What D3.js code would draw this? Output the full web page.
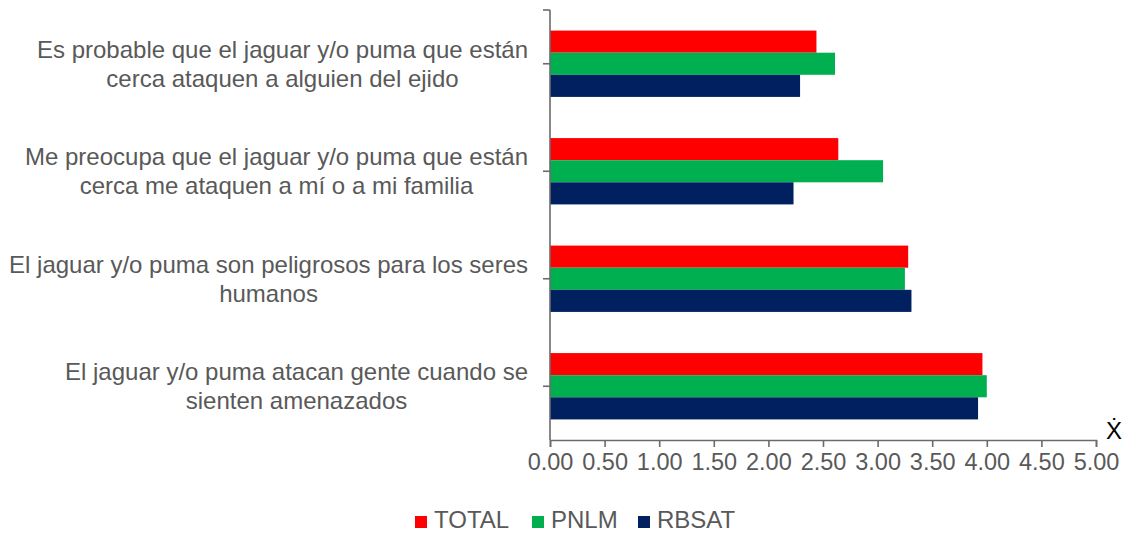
<!DOCTYPE html>
<html>
<head>
<meta charset="utf-8">
<script src="https://cdn.jsdelivr.net/npm/d3@7"></script>
<style>
  html, body { margin: 0; padding: 0; background: #fff; }
  svg { display: block; font-family: "Liberation Sans", Arial, sans-serif; }
</style>
</head>
<body>
<svg id="chart" width="1131" height="533"></svg>
<script>
// ---- data ----
const categories = [
  ["Es probable que el jaguar y/o puma que están", "cerca ataquen a alguien del ejido"],
  ["Me preocupa que el jaguar y/o puma que están", "cerca me ataquen a mí o a mi familia"],
  ["El jaguar y/o puma son peligrosos para los seres", "humanos"],
  ["El jaguar y/o puma atacan gente cuando se", "sienten amenazados"]
];
const seriesNames = ["TOTAL", "PNLM", "RBSAT"];
const seriesColors = ["#FF0000", "#00B050", "#002060"];
const totalValues = [2.44, 2.64, 3.28, 3.96];
const pnlmValues  = [2.61, 3.05, 3.25, 4.00];
const rbsatValues = [2.29, 2.23, 3.31, 3.92];
const xTicks = [0, 0.5, 1, 1.5, 2, 2.5, 3, 3.5, 4, 4.5, 5];
const axisTitle = "Ẋ";

const seriesValues = [totalValues, pnlmValues, rbsatValues];
const svg = d3.select("#chart");
const textColor = "#595959";
const axisColor = "#6b6b6b";

const x = d3.scaleLinear().domain([0, 5]).range([550, 1096]);
const y = d3.scaleBand().domain(d3.range(categories.length)).range([10, 440])
  .paddingInner(0.383).paddingOuter(0.1915);
const ys = d3.scaleBand().domain(d3.range(seriesNames.length)).range([0, y.bandwidth()]);

// bars
categories.forEach((c, ci) => {
  const g = svg.append("g").attr("transform", `translate(0,${y(ci)})`);
  g.selectAll("rect").data(seriesValues.map((s, si) => ({si, v: s[ci]})))
    .join("rect")
    .attr("x", x(0))
    .attr("y", d => ys(d.si))
    .attr("width", d => x(d.v) - x(0))
    .attr("height", ys.bandwidth())
    .attr("fill", d => seriesColors[d.si]);
});

// x axis
const xAxis = d3.axisBottom(x).tickValues(xTicks).tickFormat(d3.format(".2f")).tickSizeOuter(7).tickSizeInner(7).tickPadding(6);
const gx = svg.append("g").attr("transform", "translate(0,440)").call(xAxis);
gx.select(".domain").attr("stroke", axisColor).attr("stroke-width", 1.6);
gx.selectAll(".tick line").attr("stroke", axisColor).attr("stroke-width", 1.6);
gx.selectAll(".tick text").attr("fill", textColor).attr("font-size", 23.5)
  .attr("font-family", "Liberation Sans, Arial, sans-serif");

// y axis line
svg.append("line").attr("x1", x(0)).attr("x2", x(0)).attr("y1", 10).attr("y2", 440)
  .attr("stroke", axisColor).attr("stroke-width", 1.6);
// y ticks at category centers and top end
const yTickPos = categories.map((c, i) => y(i) + y.bandwidth() / 2).concat([10]);
svg.selectAll(".ytick").data(yTickPos).join("line").attr("class", "ytick")
  .attr("x1", x(0) - 7).attr("x2", x(0)).attr("y1", d => d).attr("y2", d => d)
  .attr("stroke", axisColor).attr("stroke-width", 1.6);

// category labels (centered block, right edge at 528)
categories.forEach((lines, ci) => {
  const cy = y(ci) + y.bandwidth() / 2;
  const g = svg.append("g");
  const texts = lines.map((ln, li) => g.append("text")
    .attr("y", cy - 6 + li * 28.8)
    .attr("text-anchor", "middle")
    .attr("font-size", 24)
    .attr("fill", textColor)
    .text(ln));
  const maxW = d3.max(texts, t => t.node().getComputedTextLength());
  texts.forEach(t => t.attr("x", 528 - maxW / 2));
});

// axis title
svg.append("text").attr("x", 1114).attr("y", 439).attr("text-anchor", "middle")
  .attr("font-size", 24).attr("fill", "#000").text(axisTitle);

// legend
const legendX = [415, 532, 638];
const lg = svg.selectAll(".leg").data(seriesNames).join("g").attr("class", "leg")
  .attr("transform", (d, i) => `translate(${legendX[i]},516)`);
lg.append("rect").attr("width", 12).attr("height", 12).attr("fill", (d, i) => seriesColors[i]);
lg.append("text").attr("x", 19).attr("y", 12).attr("font-size", 24).attr("fill", textColor).text(d => d);
</script>
</body>
</html>
